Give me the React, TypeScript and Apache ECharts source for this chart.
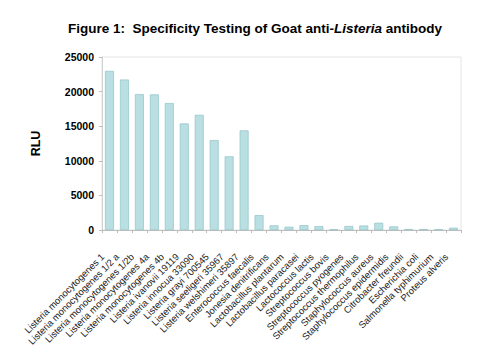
import React, { useEffect, useRef } from "react";
import * as echarts from "echarts";

const categories = [
  "Listeria monocytogenes 1",
  "Listeria monocytogenes 1/2 a",
  "Listeria monocytogenes 1/2b",
  "Listeria monocytogenes 4a",
  "Listeria monocytogenes 4b",
  "Listeria ivanovii 19119",
  "Listeria innocua 33090",
  "Listeria grayi 700545",
  "Listeria seeligeri 35967",
  "Listeria welshimeri 35897",
  "Enterococcus faecalis",
  "Jonesia denitrificans",
  "Lactobacillus plantarum",
  "Lactobacillus paracasei",
  "Lactococcus lactis",
  "Streptococcus bovis",
  "Streptococcus pyogenes",
  "Streptococcus thermophilus",
  "Staphylococcus aureus",
  "Staphylococcus epidermidis",
  "Citrobacter freundii",
  "Escherichia coli",
  "Salmonella typhimurium",
  "Proteus alveris",
];

const rluValues = [
  23000, 21750, 19650, 19600, 18350, 15400, 16650, 13000, 10650, 14400,
  2150, 680, 480, 700, 560, 100, 580, 650, 1050, 520, 150, 150, 100, 330,
];

const yTicks = { min: 0, max: 25000, interval: 5000 };

export default function App() {
  const ref = useRef<HTMLDivElement>(null);
  useEffect(() => {
    document.body.style.margin = "0";
    const chart = echarts.init(ref.current!, null, { renderer: "svg" });
    chart.setOption({
      animation: false,
      backgroundColor: "#ffffff",
      title: {
        text: "{b|Figure 1:  Specificity Testing of Goat anti-}{i|Listeria}{b| antibody}",
        left: 250,
        textAlign: "center",
        top: 16,
        textStyle: {
          rich: {
            b: { fontFamily: "Liberation Sans, Arial", fontSize: 13.5, fontWeight: "bold", color: "#000" },
            i: { fontFamily: "Liberation Sans, Arial", fontSize: 13.5, fontWeight: "bold", fontStyle: "italic", color: "#000" },
          },
        },
      },
      grid: {
        left: 102,
        right: 21,
        top: 57,
        bottom: 131,
        show: true,
        borderColor: "#e4e4e4",
        borderWidth: 1,
      },
      xAxis: {
        type: "category",
        data: categories,
        axisLine: { lineStyle: { color: "#bdbdbd" } },
        axisTick: { show: true, length: 3, lineStyle: { color: "#bdbdbd" } },
        axisLabel: {
          interval: 0,
          rotate: 45,
          fontFamily: "Liberation Sans, Arial",
          fontSize: 9.5,
          color: "#222",
          margin: 18,
          padding: [0, 10, 0, 0],
        },
      },
      yAxis: {
        type: "value",
        min: yTicks.min,
        max: yTicks.max,
        interval: yTicks.interval,
        name: "RLU",
        nameLocation: "middle",
        nameRotate: 90,
        nameGap: 60,
        nameTextStyle: { fontFamily: "Liberation Sans, Arial", fontSize: 12.5, fontWeight: "bold", color: "#000" },
        axisLine: { show: true, lineStyle: { color: "#d0d0d0" } },
        axisTick: { show: true, length: 3, lineStyle: { color: "#bdbdbd" } },
        splitLine: { show: false },
        axisLabel: {
          fontFamily: "Liberation Sans, Arial",
          fontSize: 10.5,
          fontWeight: "bold",
          color: "#000",
          margin: 8,
          formatter: (v: number) => String(v),
        },
      },
      series: [
        {
          type: "bar",
          data: rluValues,
          barWidth: 9,
          itemStyle: { color: "#b9dfe2", borderColor: "#98c8cc", borderWidth: 0.8 },
        },
      ],
    });
    return () => chart.dispose();
  }, []);
  return <div ref={ref} style={{ width: 482, height: 361 }} />;
}
